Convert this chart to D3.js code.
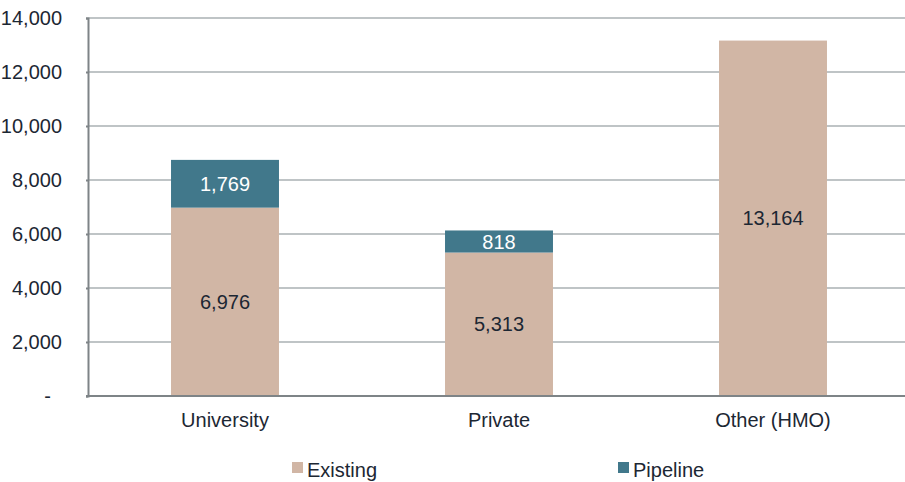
<!DOCTYPE html>
<html>
<head>
<meta charset="utf-8">
<script src="https://cdn.jsdelivr.net/npm/d3@7"></script>
<style>
  html, body { margin: 0; padding: 0; background: #fff; }
  svg { display: block; font-family: "Liberation Sans", Arial, sans-serif; }
</style>
</head>
<body>
<svg id="chart" width="905" height="482"></svg>
<script>
// Bed spaces by provider type
const categories = ["University", "Private", "Other (HMO)"];
const existing = [6976, 5313, 13164];
const pipeline = [1769, 818, 0];
const seriesNames = ["Existing", "Pipeline"];
const seriesColors = ["#D1B6A5", "#41788B"];
const yTicks = [0, 2000, 4000, 6000, 8000, 10000, 12000, 14000];

const svg = d3.select("#chart");
const margin = { left: 88, top: 18, bottom: 86 };
const W = 905, H = 482;
const fontSize = "20px";
const fontFamily = "Liberation Sans, Arial, sans-serif";

// the category band extends a little past the right edge of the drawing
const x = d3.scaleBand().domain(categories).range([margin.left, W + 5])
  .paddingInner(0.606).paddingOuter(0.303);
const y = d3.scaleLinear().domain([0, 14000]).range([H - margin.bottom, margin.top]);

const fmt = d3.format(",");
const textColor = "#1C2733";

// gridlines
svg.append("g").selectAll("line").data(yTicks.filter(d => d > 0)).join("line")
  .attr("x1", margin.left).attr("x2", W)
  .attr("y1", d => y(d)).attr("y2", d => y(d))
  .attr("stroke", "#BFC4C6").attr("stroke-width", 2);

// y axis
const yAxis = d3.axisLeft(y).tickValues(yTicks).tickSize(2)
  .tickFormat(d => d === 0 ? "-" : fmt(d));
const gy = svg.append("g").attr("transform", `translate(${margin.left},0)`).call(yAxis);
gy.select(".domain").attr("stroke", "#7E8487").attr("stroke-width", 2);
gy.selectAll(".tick line").attr("stroke", "#7E8487").attr("stroke-width", 2);
gy.selectAll(".tick text")
  .attr("x", d => d === 0 ? -37 : -26)
  .attr("fill", textColor)
  .style("font-size", fontSize).style("font-family", fontFamily);

// stacked data
const rows = categories.map((c, i) => ({ cat: c, Existing: existing[i], Pipeline: pipeline[i] }));
const stacked = d3.stack().keys(seriesNames)(rows);

const bars = svg.append("g");
stacked.forEach((layer, li) => {
  bars.append("g").selectAll("rect").data(layer.filter(d => d[1] - d[0] > 0)).join("rect")
    .attr("x", d => x(d.data.cat))
    .attr("width", x.bandwidth())
    .attr("y", d => y(d[1]))
    .attr("height", d => y(d[0]) - y(d[1]))
    .attr("fill", seriesColors[li]);
});

// value labels
stacked.forEach((layer, li) => {
  bars.append("g").selectAll("text").data(layer.filter(d => d[1] - d[0] > 0)).join("text")
    .attr("x", d => x(d.data.cat) + x.bandwidth() / 2)
    .attr("y", d => (y(d[0]) + y(d[1])) / 2)
    .attr("dy", "0.36em")
    .attr("text-anchor", "middle")
    .attr("fill", li === 0 ? textColor : "#FFFFFF")
    .style("font-size", fontSize)
    .text(d => fmt(d[1] - d[0]));
});

// x axis baseline
const xAxis = d3.axisBottom(x).tickSize(0);
const gx = svg.append("g").attr("transform", `translate(0,${y(0)})`).call(xAxis);
gx.select(".domain").attr("d", `M${margin.left - 2},0H${W}`).attr("stroke", "#7E8487").attr("stroke-width", 2);
gx.selectAll(".tick text").attr("y", 17).attr("fill", textColor)
  .style("font-size", fontSize).style("font-family", fontFamily);

// legend
const legendX = [292, 618];
const legend = svg.append("g");
seriesNames.forEach((name, i) => {
  legend.append("rect").attr("x", legendX[i]).attr("y", 462).attr("width", 11).attr("height", 11)
    .attr("fill", seriesColors[i]);
  legend.append("text").attr("x", legendX[i] + 15).attr("y", 470).attr("dy", "0.36em")
    .attr("fill", textColor).style("font-size", fontSize).text(name);
});
</script>
</body>
</html>
